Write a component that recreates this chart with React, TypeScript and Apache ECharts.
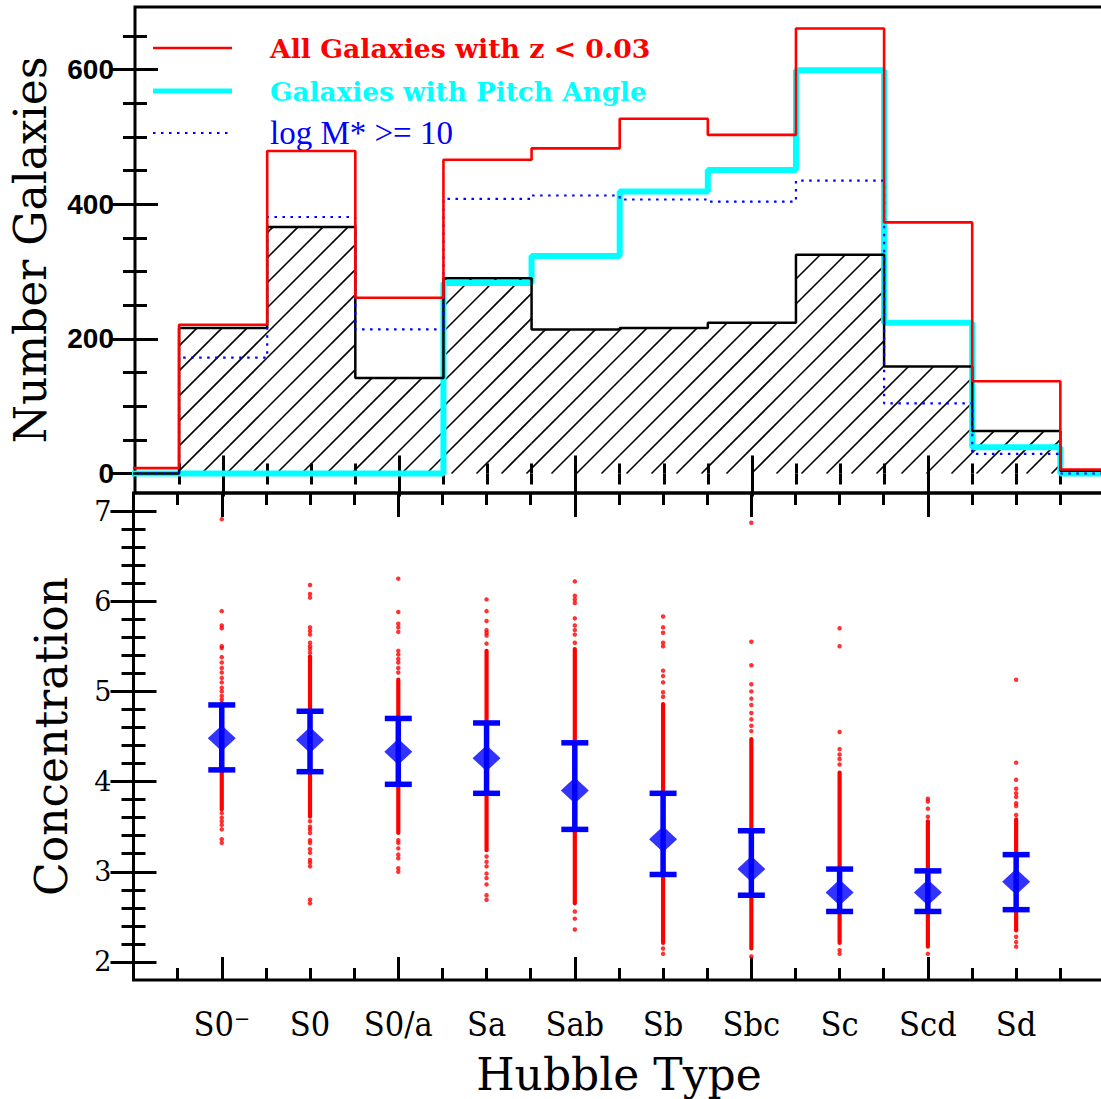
import React, { useEffect, useRef } from "react";
import * as echarts from "echarts";

// ---------- categories ----------
const hubbleTypes = ["S0⁻", "S0", "S0/a", "Sa", "Sab", "Sb", "Sbc", "Sc", "Scd", "Sd"];
const typePositions = [1, 2, 3, 4, 5, 6, 7, 8, 9, 10];

// ---------- top panel: histograms (bins centred on integer positions, partial bins at both ends) ----------
const binCenters = [0, 1, 2, 3, 4, 5, 6, 7, 8, 9, 10, 11];
const allGalaxies = [8, 221, 479, 261, 466, 483, 527, 503, 661, 373, 137, 6];
const pitchAngle = [0, 0, 0, 0, 283, 323, 419, 451, 599, 224, 39, 0];
const massive = [0, 172, 381, 214, 408, 413, 407, 404, 435, 104, 29, 0];
const hatchedSample = [0, 216, 366, 142, 290, 214, 216, 224, 325, 159, 63, 4];

// ---------- bottom panel: concentration ----------
const concMean = [4.48, 4.46, 4.33, 4.26, 3.9, 3.36, 3.03, 2.77, 2.77, 2.89];
const concErrLo = [4.13, 4.11, 3.97, 3.87, 3.47, 2.97, 2.74, 2.56, 2.56, 2.58];
const concErrHi = [4.85, 4.78, 4.7, 4.65, 4.43, 3.87, 3.455, 3.03, 3.01, 3.19];
// densely packed core of each column of individual galaxies
const denseLo = [3.69, 3.61, 3.43, 3.24, 2.65, 2.21, 2.15, 2.21, 2.17, 2.35];
const denseHi = [4.87, 5.39, 5.13, 5.45, 5.47, 4.86, 4.47, 4.1, 3.56, 3.58];
// individually visible galaxies outside the dense core
const sparseS0m = [6.91, 5.89, 5.73, 5.7, 5.5, 5.48, 5.38, 5.32, 5.26, 5.21, 5.15, 5.1, 5.04, 5.0, 4.95, 4.91, 3.65, 3.6, 3.56, 3.52, 3.47, 3.36, 3.32];
const sparseS0 = [6.18, 6.08, 6.04, 5.71, 5.67, 5.63, 5.54, 5.5, 5.47, 5.43, 3.56, 3.5, 3.47, 3.43, 3.35, 3.32, 3.25, 3.21, 3.13, 3.1, 3.06, 2.69, 2.65];
const sparseS0a = [6.25, 5.88, 5.75, 5.71, 5.66, 5.45, 5.41, 5.36, 5.32, 5.26, 5.21, 3.35, 3.32, 3.26, 3.19, 3.15, 3.04, 3.0];
const sparseSa = [6.02, 5.89, 5.78, 5.68, 5.65, 5.62, 5.53, 3.17, 3.11, 3.06, 2.98, 2.93, 2.86, 2.74, 2.69];
const sparseSab = [6.22, 6.06, 6.02, 5.98, 5.81, 5.73, 5.68, 5.63, 5.54, 2.56, 2.48, 2.36];
const sparseSb = [5.83, 5.71, 5.65, 5.54, 5.5, 5.23, 5.17, 5.1, 4.99, 4.94, 2.15, 2.09];
const sparseSbc = [6.87, 5.55, 5.29, 5.08, 5.0, 4.92, 4.85, 4.76, 4.69, 4.62, 4.56, 2.06];
const sparseSc = [5.7, 5.5, 4.55, 4.36, 4.3, 4.25, 4.19, 2.13, 2.09];
const sparseScd = [3.81, 3.78, 3.7, 3.61, 2.09];
const sparseSd = [5.13, 4.21, 4.02, 3.92, 3.87, 3.83, 3.76, 3.73, 3.63, 2.28, 2.22, 2.17];
const sparseByType = [sparseS0m, sparseS0, sparseS0a, sparseSa, sparseSab, sparseSb, sparseSbc, sparseSc, sparseScd, sparseSd];

// ---------- tick values ----------
const xMajorTicks = [1, 3, 5, 7, 9];
const xMinorTicks = [0.5, 1, 1.5, 2, 2.5, 3, 3.5, 4, 4.5, 5, 5.5, 6, 6.5, 7, 7.5, 8, 8.5, 9, 9.5, 10, 10.5];
const countTicks = [0, 200, 400, 600];
const countMinorTicks = [50, 100, 150, 200, 250, 300, 350, 400, 450, 500, 550, 600, 650];
const concTicks = [2, 3, 4, 5, 6, 7];
const concMinorTicks = [2.2, 2.4, 2.6, 2.8, 3.2, 3.4, 3.6, 3.8, 4.2, 4.4, 4.6, 4.8, 5.2, 5.4, 5.6, 5.8, 6.2, 6.4, 6.6, 6.8];

const SERIF = '"DejaVu Serif", serif';
const BLACK = "#000000";

function stepData(vals: number[]) {
  const pts = binCenters.map((c, i) => [c - 0.5, vals[i]]);
  pts.push([binCenters[binCenters.length - 1] + 0.5, vals[vals.length - 1]]);
  return pts;
}

function tickAxis(kind: "x" | "y", gridIndex: number, position: string, min: number, max: number, ticks: number[], length: number, extra: any = {}) {
  return {
    type: "value",
    gridIndex,
    position,
    min,
    max,
    axisLine: { show: false },
    splitLine: { show: false },
    axisLabel: { show: false },
    axisTick: { show: true, inside: true, length, customValues: ticks, lineStyle: { color: BLACK, width: 3 } },
    ...extra,
  };
}

export default function App() {
  const ref = useRef<HTMLDivElement>(null);

  useEffect(() => {
    if (!ref.current) return;
    const chart = echarts.init(ref.current, undefined, { renderer: "svg" });

    const gridLeft = 133.5;
    const gridWidth = 970.9;

    const xAxes = [
      // top panel
      tickAxis("x", 0, "bottom", 0, 11, xMajorTicks, 18),
      tickAxis("x", 0, "bottom", 0, 11, xMinorTicks, 10),
      tickAxis("x", 0, "top", 0, 11, xMajorTicks, 23),
      tickAxis("x", 0, "top", 0, 11, xMinorTicks, 11),
      // bottom panel
      tickAxis("x", 1, "bottom", 0, 11, xMajorTicks, 23, {
        name: "Hubble Type",
        nameLocation: "middle",
        nameGap: 72,
        nameTextStyle: { fontFamily: SERIF, fontSize: 44, color: BLACK },
        axisLabel: {
          show: true,
          customValues: typePositions,
          formatter: (v: number) => hubbleTypes[typePositions.indexOf(v)] ?? "",
          fontFamily: '"DejaVu Serif Condensed", "DejaVu Serif", serif',
          fontSize: 34,
          color: BLACK,
          margin: 27,
        },
      }),
      tickAxis("x", 1, "bottom", 0, 11, xMinorTicks, 12),
      tickAxis("x", 1, "top", 0, 11, xMajorTicks, 24),
      tickAxis("x", 1, "top", 0, 11, xMinorTicks, 12),
    ];

    const yAxes = [
      tickAxis("y", 0, "left", -29, 693, countTicks, 23, {
        name: "Number Galaxies",
        nameLocation: "middle",
        nameGap: 83,
        nameRotate: 90,
        nameTextStyle: { fontFamily: SERIF, fontSize: 44, color: BLACK },
        axisLabel: {
          show: true,
          customValues: countTicks,
          fontFamily: '"Liberation Sans", sans-serif',
          fontWeight: "bold",
          fontSize: 28,
          color: BLACK,
          margin: 21,
        },
      }),
      tickAxis("y", 0, "left", -29, 693, countMinorTicks, 12),
      tickAxis("y", 0, "right", -29, 693, countTicks, 23),
      tickAxis("y", 0, "right", -29, 693, countMinorTicks, 12),
      tickAxis("y", 1, "left", 1.8, 7.2, concTicks, 23, {
        name: "Concentration",
        nameLocation: "middle",
        nameGap: 60,
        nameRotate: 90,
        nameTextStyle: { fontFamily: SERIF, fontSize: 44, color: BLACK },
        axisLabel: {
          show: true,
          customValues: concTicks,
          fontFamily: SERIF,
          fontSize: 27,
          color: BLACK,
          margin: 22,
        },
      }),
      tickAxis("y", 1, "left", 1.8, 7.2, concMinorTicks, 12),
      tickAxis("y", 1, "right", 1.8, 7.2, concTicks, 23),
      tickAxis("y", 1, "right", 1.8, 7.2, concMinorTicks, 12),
    ];

    const hatchRender = (params: any, api: any) => {
      const c = api.value(0);
      const v = api.value(1);
      if (!(v > 0)) return null;
      const p0 = api.coord([c - 0.5, 0]);
      const p1 = api.coord([c + 0.5, v]);
      const cs = params.coordSys;
      const x0 = Math.max(p0[0], cs.x);
      const x1 = Math.min(p1[0], cs.x + cs.width);
      const yTop = p1[1];
      const yBot = p0[1];
      const sp = 25;
      const children: any[] = [];
      const kStart = Math.ceil((x0 + yTop) / sp) * sp;
      for (let k = kStart; k <= x1 + yBot; k += sp) {
        const xa = Math.max(x0, k - yBot);
        const xb = Math.min(x1, k - yTop);
        if (xb > xa) {
          children.push({
            type: "line",
            shape: { x1: xa, y1: k - xa, x2: xb, y2: k - xb },
            style: { stroke: BLACK, lineWidth: 1.6 },
          });
        }
      }
      return { type: "group", children };
    };

    const coreRender = (params: any, api: any) => {
      const x = api.value(0);
      const pLo = api.coord([x, api.value(1)]);
      const pHi = api.coord([x, api.value(2)]);
      return {
        type: "line",
        shape: { x1: pLo[0], y1: pLo[1], x2: pHi[0], y2: pHi[1] },
        style: { stroke: "#ff0000", lineWidth: 4.2, lineCap: "round" },
      };
    };

    const errRender = (params: any, api: any) => {
      const x = api.value(0);
      const pLo = api.coord([x, api.value(1)]);
      const pHi = api.coord([x, api.value(2)]);
      const hw = 13.5;
      const st = { stroke: "#0000ff", lineWidth: 5.5 };
      return {
        type: "group",
        children: [
          { type: "line", shape: { x1: pLo[0], y1: pLo[1], x2: pHi[0], y2: pHi[1] }, style: st },
          { type: "line", shape: { x1: pLo[0] - hw, y1: pLo[1], x2: pLo[0] + hw, y2: pLo[1] }, style: st },
          { type: "line", shape: { x1: pHi[0] - hw, y1: pHi[1], x2: pHi[0] + hw, y2: pHi[1] }, style: st },
        ],
      };
    };

    const sparsePoints: number[][] = [];
    sparseByType.forEach((vals, i) => vals.forEach((v) => sparsePoints.push([typePositions[i], v])));

    const option: any = {
      animation: false,
      backgroundColor: "#ffffff",
      grid: [
        { left: gridLeft, top: 7, width: gridWidth, height: 486, show: true, borderColor: BLACK, borderWidth: 3, backgroundColor: "transparent" },
        { left: gridLeft, top: 493, width: gridWidth, height: 487, show: true, borderColor: BLACK, borderWidth: 3, backgroundColor: "transparent" },
      ],
      xAxis: xAxes,
      yAxis: yAxes,
      series: [
        {
          name: "Hatched sample",
          type: "custom",
          xAxisIndex: 0,
          yAxisIndex: 0,
          clip: true,
          renderItem: hatchRender,
          encode: { x: 0, y: 1 },
          data: binCenters.map((c, i) => [c, hatchedSample[i]]),
          z: 1,
        },
        {
          name: "Galaxies with Pitch Angle",
          type: "line",
          xAxisIndex: 0,
          yAxisIndex: 0,
          step: "end",
          symbol: "none",
          clip: true,
          data: stepData(pitchAngle),
          lineStyle: { color: "#00ffff", width: 6 },
          z: 2,
        },
        {
          name: "Hatched outline",
          type: "line",
          xAxisIndex: 0,
          yAxisIndex: 0,
          step: "end",
          symbol: "none",
          clip: true,
          data: stepData(hatchedSample),
          lineStyle: { color: BLACK, width: 2.5 },
          z: 3,
        },
        {
          name: "log M* >= 10",
          type: "line",
          xAxisIndex: 0,
          yAxisIndex: 0,
          step: "end",
          symbol: "none",
          clip: true,
          data: stepData(massive),
          lineStyle: { color: "#0000ff", width: 2.2, type: [2.5, 5.5] },
          z: 4,
        },
        {
          name: "All Galaxies with z < 0.03",
          type: "line",
          xAxisIndex: 0,
          yAxisIndex: 0,
          step: "end",
          symbol: "none",
          clip: true,
          data: stepData(allGalaxies),
          lineStyle: { color: "#ff0000", width: 2.6 },
          z: 5,
        },
        {
          name: "Concentration (dense)",
          type: "custom",
          xAxisIndex: 4,
          yAxisIndex: 4,
          clip: true,
          renderItem: coreRender,
          encode: { x: 0, y: [1, 2] },
          data: typePositions.map((x, i) => [x, denseLo[i], denseHi[i]]),
          z: 1,
        },
        {
          name: "Concentration",
          type: "scatter",
          xAxisIndex: 4,
          yAxisIndex: 4,
          symbol: "circle",
          symbolSize: 4.5,
          itemStyle: { color: "#ff0000" },
          data: sparsePoints,
          z: 2,
        },
        {
          name: "Scatter",
          type: "custom",
          xAxisIndex: 4,
          yAxisIndex: 4,
          clip: true,
          renderItem: errRender,
          encode: { x: 0, y: [1, 2] },
          data: typePositions.map((x, i) => [x, concErrLo[i], concErrHi[i]]),
          z: 3,
        },
        {
          name: "Mean concentration",
          type: "scatter",
          xAxisIndex: 4,
          yAxisIndex: 4,
          symbol: "diamond",
          symbolSize: [28, 26],
          itemStyle: { color: "#0000ff" },
          data: typePositions.map((x, i) => [x, concMean[i]]),
          z: 4,
        },
      ],
      graphic: [
        { type: "line", shape: { x1: 153, y1: 48, x2: 232, y2: 48 }, style: { stroke: "#ff0000", lineWidth: 2.6 } },
        {
          type: "text",
          x: 270,
          y: 48,
          style: { text: "All Galaxies with z < 0.03", fill: "#ff0000", font: 'bold 26.7px "DejaVu Serif"', verticalAlign: "middle" },
        },
        { type: "line", shape: { x1: 153, y1: 91, x2: 232, y2: 91 }, style: { stroke: "#00ffff", lineWidth: 5 } },
        {
          type: "text",
          x: 270,
          y: 91,
          style: { text: "Galaxies with Pitch Angle", fill: "#00ffff", font: 'bold 26.3px "DejaVu Serif"', verticalAlign: "middle" },
        },
        { type: "line", shape: { x1: 153, y1: 133, x2: 232, y2: 133 }, style: { stroke: "#0000ff", lineWidth: 2, lineDash: [2.5, 5.5] } },
        {
          type: "text",
          x: 270,
          y: 133,
          style: { text: "log M* >= 10", fill: "#0000ff", font: '33px "Liberation Serif"', verticalAlign: "middle" },
        },
      ],
    };

    chart.setOption(option);
    return () => chart.dispose();
  }, []);

  return (
    <div
      ref={ref}
      style={{ position: "fixed", left: 0, top: 0, width: 1110, height: 1099, background: "#ffffff" }}
    />
  );
}
